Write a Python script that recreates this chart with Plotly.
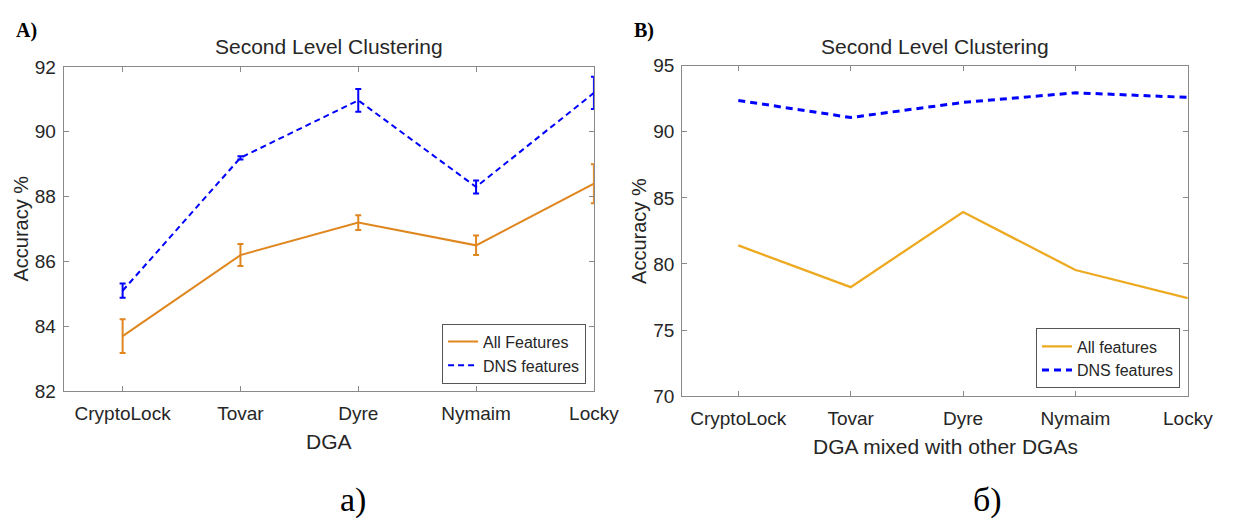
import plotly.graph_objects as go

categories = ["CryptoLock", "Tovar", "Dyre", "Nymaim", "Locky"]
x_pos = [1, 2, 3, 4, 5]

# Panel A (with error bars)
a_all = [83.7, 86.2, 87.2, 86.5, 88.4]
a_all_err = [0.52, 0.34, 0.23, 0.30, 0.60]
a_dns = [85.1, 89.2, 90.97, 88.3, 91.2]
a_dns_err = [0.22, 0.05, 0.35, 0.20, 0.50]

# Panel B
b_all = [81.4, 78.24, 83.93, 79.54, 77.41]
b_dns = [92.37, 91.08, 92.22, 92.95, 92.6]

a_yticks = [82, 84, 86, 88, 90, 92]
b_yticks = [70, 75, 80, 85, 90, 95]

W, H = 1253, 530
FONT = "Liberation Sans, Arial, Helvetica, sans-serif"
SERIF = "Liberation Serif, Times New Roman, serif"
TXT = "#262626"
AX = "#8a8a8a"
ORANGE_A = "#E0861F"
ORANGE_B = "#EDAA21"
BLUE = "#0000FF"

fig = go.Figure()

fig.add_trace(go.Scatter(
    x=x_pos, y=a_all, mode="lines", name="All Features",
    line=dict(color=ORANGE_A, width=2),
    error_y=dict(type="data", array=a_all_err, color=ORANGE_A, thickness=2, width=3),
    xaxis="x", yaxis="y", legend="legend", cliponaxis=False))
fig.add_trace(go.Scatter(
    x=x_pos, y=a_dns, mode="lines", name="DNS features",
    line=dict(color=BLUE, width=2, dash="6px,4px"),
    error_y=dict(type="data", array=a_dns_err, color=BLUE, thickness=2, width=3),
    xaxis="x", yaxis="y", legend="legend", cliponaxis=False))
fig.add_trace(go.Scatter(
    x=x_pos, y=b_all, mode="lines", name="All features",
    line=dict(color=ORANGE_B, width=2.3),
    xaxis="x2", yaxis="y2", legend="legend2"))
fig.add_trace(go.Scatter(
    x=x_pos, y=b_dns, mode="lines", name="DNS features",
    line=dict(color=BLUE, width=3, dash="7px,5px"),
    xaxis="x2", yaxis="y2", legend="legend2"))

def px_x(v):
    return v / W

def px_y(v):
    return 1 - v / H

common_axis = dict(
    showgrid=False, zeroline=False, showline=True, linecolor=AX, linewidth=1,
    mirror="ticks", ticks="inside", ticklen=5, tickcolor=AX, tickwidth=1,
    tickfont=dict(family=FONT, size=19, color=TXT),
)

fig.update_layout(
    width=W, height=H, margin=dict(l=0, r=0, t=0, b=0),
    paper_bgcolor="white", plot_bgcolor="white",
    font=dict(family=FONT, color=TXT),
    xaxis=dict(common_axis, domain=[px_x(65), px_x(606)], range=[0.5, 5],
               tickvals=x_pos, ticktext=categories, anchor="y", ticklabelstandoff=5),
    yaxis=dict(common_axis, domain=[px_y(397), px_y(59.3)], range=[82, 92],
               tickvals=a_yticks, anchor="x", ticklabelstandoff=3),
    xaxis2=dict(common_axis, domain=[px_x(696), px_x(1212)], range=[0.5, 5],
                tickvals=x_pos, ticktext=categories, anchor="y2", ticklabelstandoff=5),
    yaxis2=dict(common_axis, domain=[px_y(402), px_y(58)], range=[70, 95],
                tickvals=b_yticks, anchor="x2", ticklabelstandoff=3),
    legend=dict(x=px_x(598), y=px_y(389), xanchor="right", yanchor="bottom",
                bgcolor="white", bordercolor="#555555", borderwidth=1,
                font=dict(family=FONT, size=16, color=TXT), tracegroupgap=0,
                itemwidth=30, traceorder="normal"),
    legend2=dict(x=px_x(1204), y=px_y(394), xanchor="right", yanchor="bottom",
                 bgcolor="white", bordercolor="#555555", borderwidth=1,
                 font=dict(family=FONT, size=16, color=TXT), tracegroupgap=0,
                 itemwidth=30, traceorder="normal"),
    showlegend=True,
)

annotations = [
    dict(text="Second Level Clustering", x=px_x(336), y=px_y(38),
         font=dict(family=FONT, size=21, color=TXT)),
    dict(text="Second Level Clustering", x=px_x(954), y=px_y(38),
         font=dict(family=FONT, size=21, color=TXT)),
    dict(text="DGA", x=px_x(336), y=px_y(449),
         font=dict(family=FONT, size=21, color=TXT)),
    dict(text="DGA mixed with other DGAs", x=px_x(965), y=px_y(454),
         font=dict(family=FONT, size=21, color=TXT)),
    dict(text="Accuracy %", x=px_x(21), y=px_y(228), textangle=-90,
         font=dict(family=FONT, size=20, color=TXT)),
    dict(text="Accuracy %", x=px_x(652), y=px_y(230), textangle=-90,
         font=dict(family=FONT, size=20, color=TXT)),
    dict(text="<b>A)</b>", x=px_x(27), y=px_y(21),
         font=dict(family=SERIF, size=20, color="black")),
    dict(text="<b>B)</b>", x=px_x(657), y=px_y(21),
         font=dict(family=SERIF, size=20, color="black")),
    dict(text="а)", x=px_x(360), y=px_y(510),
         font=dict(family=SERIF, size=34, color="black")),
    dict(text="б)", x=px_x(1008), y=px_y(510),
         font=dict(family=SERIF, size=34, color="black")),
]
for a in annotations:
    a.update(xref="paper", yref="paper", showarrow=False, xanchor="center", yanchor="middle")
fig.update_layout(annotations=annotations)

fig.write_html("out.html")
